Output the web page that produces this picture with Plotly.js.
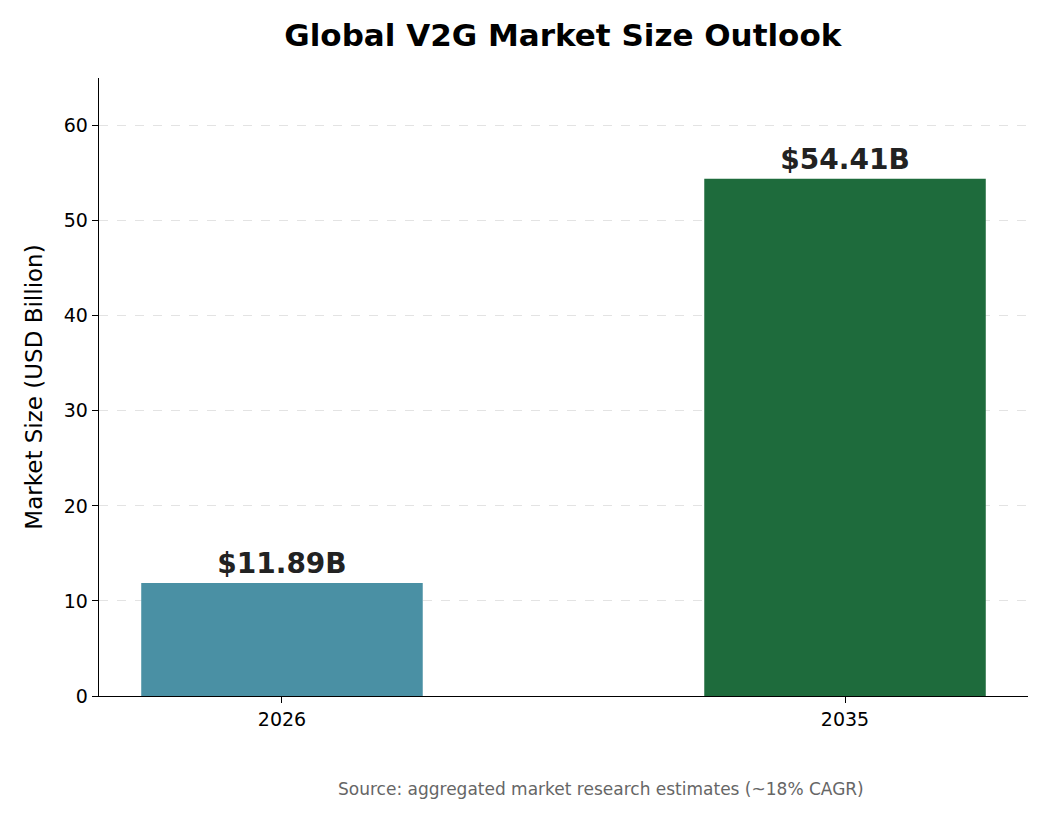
<!DOCTYPE html>
<html>
<head>
<meta charset="utf-8">
<script src="https://cdn.plot.ly/plotly-3.0.1.min.js"></script>
<style>body{margin:0;}</style>
</head>
<body>
<div id="chart" style="width:1050px;height:825px;"></div>
<script>
const years = ['2026', '2035'];
const marketSize = [11.89, 54.41];
const barColors = ['#4a90a4', '#1e6b3c'];
const labels = marketSize.map(v => '$' + v.toFixed(2) + 'B');

const data = [{
    type: 'bar',
    x: years,
    y: marketSize,
    width: 0.5,
    marker: { color: barColors },
    text: labels,
    textposition: 'outside',
    cliponaxis: false,
    textfont: { family: 'DejaVu Sans', size: 28, color: '#222222', weight: 'bold' },
    hoverinfo: 'none'
}];

const layout = {
    width: 1050,
    height: 825,
    margin: { l: 99, r: 22, t: 78, b: 129 },
    paper_bgcolor: 'white',
    plot_bgcolor: 'white',
    font: { family: 'DejaVu Sans', color: '#000' },
    title: {
        text: '<b>Global V2G Market Size Outlook</b>',
        font: { size: 31, color: '#000' },
        x: 0.536, xanchor: 'center', y: 0.957, yanchor: 'middle'
    },
    xaxis: {
        type: 'category',
        range: [-0.325, 1.325],
        showline: true, linecolor: '#000', linewidth: 1.3,
        ticks: 'outside', ticklen: 6, tickcolor: '#000',
        tickfont: { size: 19 },
        showgrid: false, zeroline: false
    },
    yaxis: {
        range: [0, 65],
        tickvals: [0, 10, 20, 30, 40, 50, 60],
        showline: true, linecolor: '#000', linewidth: 1.3,
        ticks: 'outside', ticklen: 6, tickcolor: '#000',
        tickfont: { size: 19 },
        showgrid: true, gridcolor: '#e3e3e3', griddash: 'dash', gridwidth: 1,
        zeroline: false,
        title: { text: 'Market Size (USD Billion)', font: { size: 23 }, standoff: 14 }
    },
    annotations: [{
        text: 'Source: aggregated market research estimates (~18% CAGR)',
        xref: 'paper', yref: 'paper', x: 0.54, y: -0.151,
        xanchor: 'center', yanchor: 'middle', showarrow: false,
        font: { size: 17, color: '#666666' }
    }],
    showlegend: false
};

Plotly.newPlot('chart', data, layout, { displayModeBar: false, staticPlot: true });
</script>
</body>
</html>
